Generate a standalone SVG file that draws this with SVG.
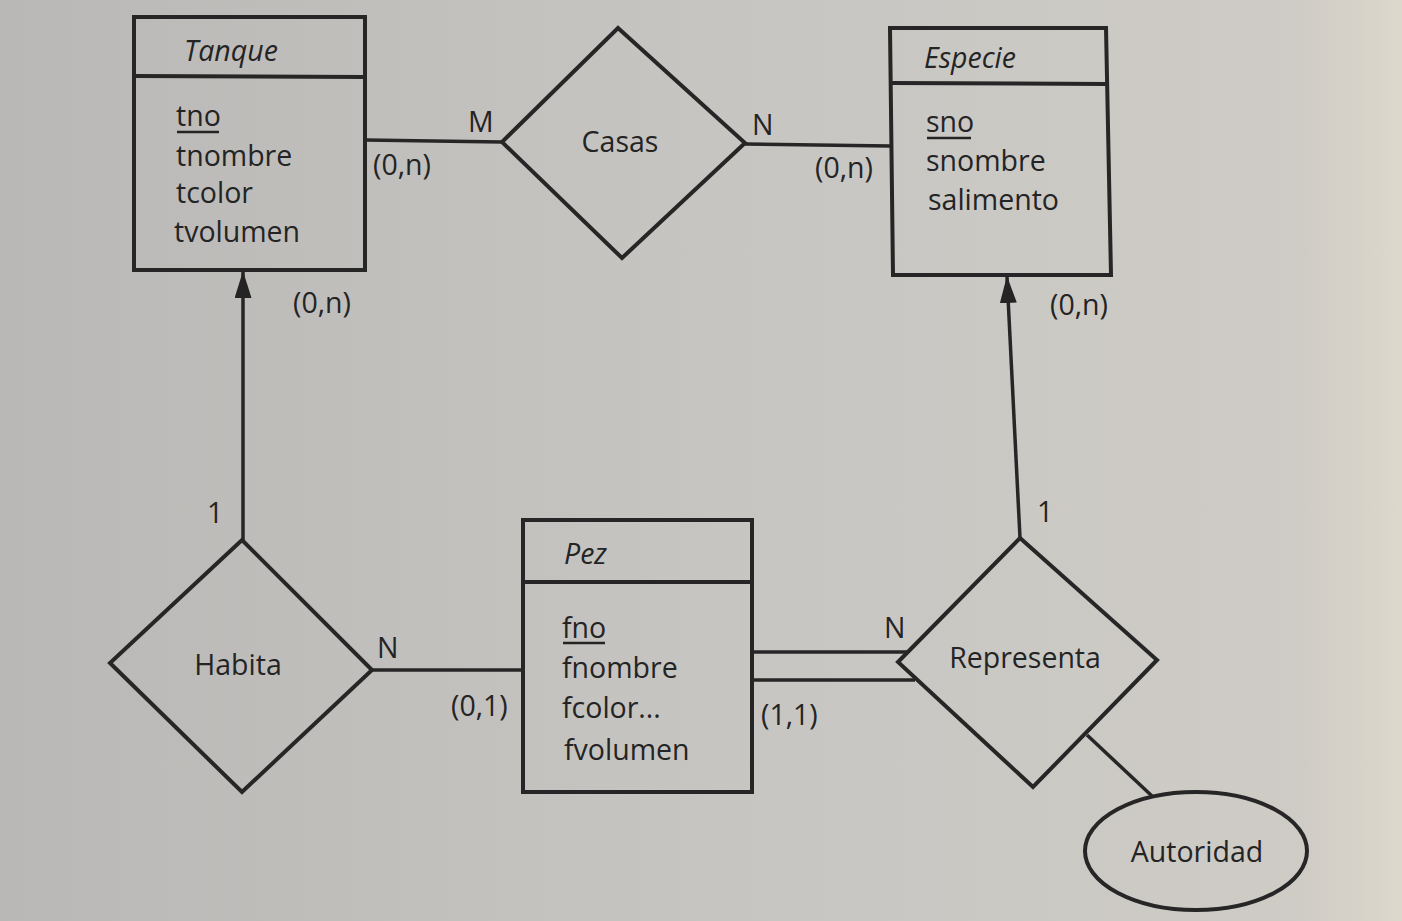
<svg xmlns="http://www.w3.org/2000/svg" width="1402" height="921" viewBox="0 0 1402 921">
  <defs>
    <linearGradient id="paper" x1="0" y1="0" x2="1" y2="0">
      <stop offset="0" stop-color="#b9b8b6"/>
      <stop offset="0.5" stop-color="#c6c5c2"/>
      <stop offset="0.93" stop-color="#cfccc6"/>
      <stop offset="1" stop-color="#ddd8cc"/>
    </linearGradient>
    <marker id="arrow" viewBox="0 0 27 17" refX="26" refY="8.5" markerWidth="27" markerHeight="17" markerUnits="userSpaceOnUse" orient="auto">
      <path d="M0 0 L27 8.5 L0 17 Z" fill="#242424"/>
    </marker>
    <style>
      .shape { fill: none; stroke: #262626; stroke-width: 4; stroke-linejoin: miter; }
      .line { fill: none; stroke: #262626; stroke-width: 3.5; }
      .txt { font-family: "Open Sans", "Noto Sans", sans-serif; font-size: 28.5px; font-weight: 500; fill: #242424; }
      .title { font-style: italic; }
      .mid { text-anchor: middle; }
      .key { stroke: #242424; stroke-width: 2.5; }
    </style>
  </defs>

  <rect x="0" y="0" width="1402" height="921" fill="url(#paper)"/>

  <!-- connectors -->
  <g id="connectors">
    <line class="line" x1="365" y1="140" x2="502" y2="142"/>
    <line class="line" x1="745" y1="144" x2="890" y2="146"/>
    <line class="line" x1="243" y1="540" x2="243" y2="272" marker-end="url(#arrow)"/>
    <line class="line" x1="1020" y1="538" x2="1007" y2="277" marker-end="url(#arrow)"/>
    <line class="line" x1="372" y1="670" x2="523" y2="670"/>
    <line class="line" x1="752" y1="652" x2="907" y2="652"/>
    <line class="line" x1="752" y1="680" x2="915" y2="680"/>
    <line class="line" x1="1087" y1="735" x2="1152" y2="796"/>

    <text class="txt" x="468" y="132">M</text>
    <text class="txt" x="373" y="175">(0,n)</text>
    <text class="txt" x="752" y="135">N</text>
    <text class="txt" x="815" y="178">(0,n)</text>
    <text class="txt" x="293" y="313">(0,n)</text>
    <text class="txt" x="207" y="523">1</text>
    <text class="txt" x="1050" y="315">(0,n)</text>
    <text class="txt" x="1037" y="522">1</text>
    <text class="txt" x="377" y="658">N</text>
    <text class="txt" x="451" y="716">(0,1)</text>
    <text class="txt" x="884" y="638">N</text>
    <text class="txt" x="761" y="725">(1,1)</text>
  </g>

  <!-- entity Tanque -->
  <g id="tanque">
    <rect class="shape" x="134" y="17" width="231" height="253"/>
    <line class="shape" x1="134" y1="76" x2="365" y2="77"/>
    <text class="txt title" x="184" y="61">Tanque</text>
    <text class="txt" x="176" y="126">tno</text>
    <line class="key" x1="177" y1="132" x2="219" y2="132"/>
    <text class="txt" x="176" y="166">tnombre</text>
    <text class="txt" x="176" y="203">tcolor</text>
    <text class="txt" x="174" y="242">tvolumen</text>
  </g>

  <!-- relationship Casas -->
  <g id="casas">
    <polygon class="shape" points="618,28 745,143 622,258 502,142"/>
    <text class="txt mid" x="620" y="152">Casas</text>
  </g>

  <!-- entity Especie -->
  <g id="especie">
    <polygon class="shape" points="890,28 1106,28 1111,275 893,275"/>
    <line class="shape" x1="890" y1="83" x2="1107" y2="84"/>
    <text class="txt title" x="924" y="68">Especie</text>
    <text class="txt" x="926" y="132">sno</text>
    <line class="key" x1="927" y1="138" x2="971" y2="138"/>
    <text class="txt" x="926" y="171">snombre</text>
    <text class="txt" x="928" y="210">salimento</text>
  </g>

  <!-- relationship Habita -->
  <g id="habita">
    <polygon class="shape" points="242,540 372,670 242,792 110,663"/>
    <text class="txt mid" x="238" y="675">Habita</text>
  </g>

  <!-- entity Pez -->
  <g id="pez">
    <rect class="shape" x="523" y="520" width="229" height="272"/>
    <line class="shape" x1="523" y1="582" x2="752" y2="582"/>
    <text class="txt title" x="564" y="564">Pez</text>
    <text class="txt" x="562" y="638">fno</text>
    <line class="key" x1="563" y1="643" x2="605" y2="643"/>
    <text class="txt" x="562" y="678">fnombre</text>
    <text class="txt" x="562" y="718">fcolor...</text>
    <text class="txt" x="564" y="760">fvolumen</text>
  </g>

  <!-- relationship Representa -->
  <g id="representa">
    <polygon class="shape" points="1020,538 1157,660 1033,787 898,662"/>
    <text class="txt mid" x="1025" y="668">Representa</text>
  </g>

  <!-- attribute Autoridad -->
  <g id="autoridad">
    <ellipse class="shape" cx="1196" cy="851" rx="111" ry="59"/>
    <text class="txt mid" x="1197" y="862">Autoridad</text>
  </g>
</svg>
